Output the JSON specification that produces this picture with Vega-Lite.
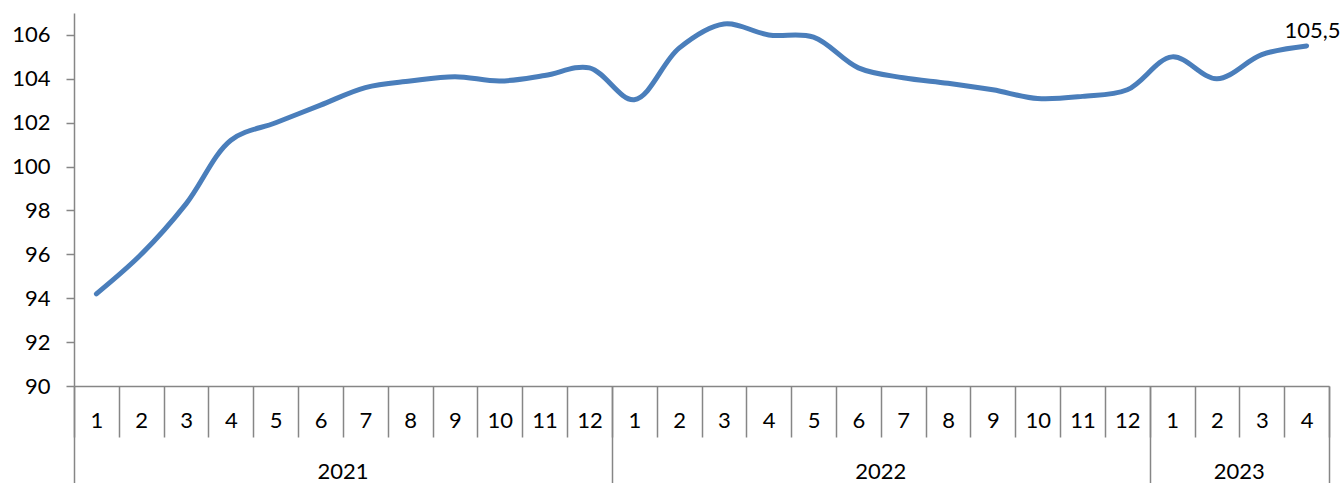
{
  "$schema": "https://vega.github.io/schema/vega-lite/v6.json",
  "width": 1255,
  "height": 373,
  "autosize": {"type": "none"},
  "padding": {"left": 74, "top": 13, "right": 12, "bottom": 97},
  "background": "white",
  "config": {
    "view": {"stroke": null},
    "font": "Lato",
    "locale": {"number": {"decimal": ",", "thousands": " ", "grouping": [3], "currency": ["", ""]}}
  },
  "data": {
    "values": [
      {"key": "2021-1", "value": 94.2},
      {"key": "2021-2", "value": 96.0},
      {"key": "2021-3", "value": 98.3},
      {"key": "2021-4", "value": 101.2},
      {"key": "2021-5", "value": 102.0},
      {"key": "2021-6", "value": 102.8},
      {"key": "2021-7", "value": 103.6},
      {"key": "2021-8", "value": 103.9},
      {"key": "2021-9", "value": 104.1},
      {"key": "2021-10", "value": 103.9},
      {"key": "2021-11", "value": 104.15},
      {"key": "2021-12", "value": 104.5},
      {"key": "2022-1", "value": 103.05},
      {"key": "2022-2", "value": 105.4},
      {"key": "2022-3", "value": 106.5},
      {"key": "2022-4", "value": 106.0},
      {"key": "2022-5", "value": 105.9},
      {"key": "2022-6", "value": 104.5},
      {"key": "2022-7", "value": 104.05},
      {"key": "2022-8", "value": 103.8},
      {"key": "2022-9", "value": 103.5},
      {"key": "2022-10", "value": 103.1},
      {"key": "2022-11", "value": 103.2},
      {"key": "2022-12", "value": 103.5},
      {"key": "2023-1", "value": 105.0},
      {"key": "2023-2", "value": 104.0},
      {"key": "2023-3", "value": 105.1},
      {"key": "2023-4", "value": 105.5}
    ]
  },
  "encoding": {
    "y": {
      "field": "value",
      "type": "quantitative",
      "scale": {"domain": [90, 107], "nice": false, "zero": false},
      "axis": {
        "title": null,
        "grid": false,
        "values": [90, 92, 94, 96, 98, 100, 102, 104, 106],
        "tickSize": 8,
        "tickColor": "#868686",
        "tickWidth": 1.5,
        "domainColor": "#868686",
        "domainWidth": 1.5,
        "labelFont": "Lato",
        "labelFontSize": 22,
        "labelColor": "#000000",
        "labelPadding": 16
      }
    }
  },
  "layer": [
    {
      "mark": {"type": "line", "interpolate": "catmull-rom", "color": "#4A7EBB", "strokeWidth": 5, "strokeCap": "round"},
      "encoding": {
        "x": {
          "field": "key",
          "type": "ordinal",
          "sort": null,
          "scale": {"type": "band", "paddingInner": 0, "paddingOuter": 0},
          "axis": {
            "title": null,
            "orient": "bottom",
            "tickBand": "extent",
            "tickSize": 51,
            "tickColor": "#868686",
            "tickWidth": 1.5,
            "domainColor": "#868686",
            "domainWidth": 1.5,
            "labelExpr": "split(datum.label, '-')[1]",
            "labelAngle": 0,
            "labelAlign": "center",
            "labelBaseline": "middle",
            "labelPadding": -17,
            "labelFont": "Lato",
            "labelFontSize": 22,
            "labelColor": "#000000"
          }
        }
      }
    },
    {
      "transform": [{"filter": "datum.key == '2023-4'"}],
      "mark": {"type": "text", "font": "Lato", "fontSize": 22, "color": "#000000", "baseline": "alphabetic", "dy": -8, "dx": 6},
      "encoding": {
        "x": {"field": "key", "type": "ordinal", "sort": null, "scale": {"type": "band", "paddingInner": 0, "paddingOuter": 0}, "axis": null},
        "text": {"field": "value", "type": "quantitative", "format": ".1f"}
      }
    },
    {
      "mark": {"type": "point", "opacity": 0},
      "encoding": {
        "x": {
          "field": "key",
          "type": "ordinal",
          "sort": null,
          "scale": {"type": "band", "paddingInner": 0, "paddingOuter": 0},
          "axis": {
            "title": null,
            "orient": "bottom",
            "values": ["2021-1", "2021-12", "2022-12", "2023-4"],
            "tickBand": "extent",
            "tickSize": 97,
            "tickColor": "#868686",
            "tickWidth": 1.5,
            "tickOpacity": {"condition": {"test": "datum.index == 0", "value": 0}, "value": 1},
            "labels": false,
            "domain": false
          }
        }
      }
    },
    {
      "mark": {"type": "point", "opacity": 0},
      "encoding": {
        "x": {
          "field": "key",
          "type": "ordinal",
          "sort": null,
          "scale": {"type": "band", "paddingInner": 0, "paddingOuter": 0},
          "axis": {
            "title": null,
            "orient": "bottom",
            "values": ["2021-6", "2022-6", "2023-2"],
            "ticks": false,
            "domain": false,
            "labelExpr": "split(datum.label, '-')[0]",
            "labelOffset": 22.41,
            "labelAngle": 0,
            "labelAlign": "center",
            "labelBaseline": "middle",
            "labelPadding": 85,
            "labelFont": "Lato",
            "labelFontSize": 22,
            "labelColor": "#000000"
          }
        }
      }
    }
  ],
  "resolve": {"axis": {"x": "independent"}}
}
